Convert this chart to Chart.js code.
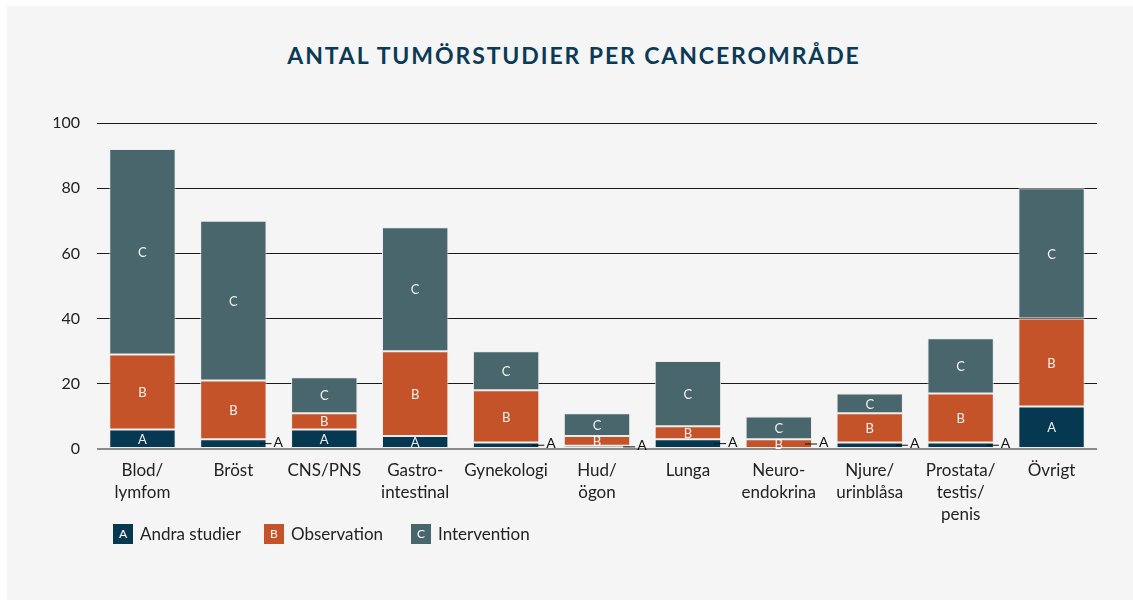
<!DOCTYPE html>
<html>
<head>
<meta charset="utf-8">
<script src="https://cdn.jsdelivr.net/npm/chart.js@4"></script>
<style>
  html, body { margin: 0; padding: 0; background: #ffffff; }
  #panel {
    position: absolute; left: 7px; top: 6px; width: 1126px; height: 594px;
    background: #f5f5f5;
  }
  #wrap { position: absolute; left: 0; top: 0; width: 1133px; height: 604px; }
  #title {
    position: absolute; left: 0; top: 40px; width: 1148px; text-align: center;
    font-family: Lato, "Open Sans", sans-serif; font-weight: bold; font-size: 23px;
    letter-spacing: 1.9px; color: #0b3a55; line-height: 30px;
  }
  #legend {
    position: absolute; top: 524px; left: 113px;
    font-family: Lato, "Open Sans", sans-serif; font-size: 17px; color: #222;
  }
  .item { position: absolute; top: 0; white-space: nowrap; height: 20px; line-height: 20px; }
  .box {
    position: absolute; top: 0; left: 0; width: 20px; height: 20px;
    color: #fff; font-size: 12px; text-align: center; line-height: 20px;
  }
  .label { position: absolute; left: 27px; top: 0; }
</style>
</head>
<body>
<div id="panel"></div>
<div id="title">ANTAL TUMÖRSTUDIER PER CANCEROMRÅDE</div>
<div id="wrap"><canvas id="chart" width="1133" height="604"></canvas></div>
<div id="legend"></div>
<script>
// Data
const categories = [
  ['Blod/', 'lymfom'], 'Bröst', 'CNS/PNS', ['Gastro-', 'intestinal'], 'Gynekologi',
  ['Hud/', 'ögon'], 'Lunga', ['Neuro-', 'endokrina'], ['Njure/', 'urinblåsa'],
  ['Prostata/', 'testis/', 'penis'], 'Övrigt'
];
const andraStudier = [6, 3, 6, 4, 2, 1, 3, 0, 2, 2, 13];
const observation = [23, 18, 5, 26, 16, 3, 4, 3, 9, 15, 27];
const intervention = [63, 49, 11, 38, 12, 7, 20, 7, 6, 17, 40];
const yTicks = [0, 20, 40, 60, 80, 100];

const seriesNames = ['Andra studier', 'Observation', 'Intervention'];
const seriesLetters = ['A', 'B', 'C'];
const seriesColors = ['#063852', '#c4532a', '#48666b'];

const FONT = 'Lato, "Open Sans", sans-serif';

// Segment letters: inside the bar, or beside it with a short leader line when too thin
const segmentLabels = {
  id: 'segmentLabels',
  afterDatasetsDraw(chart) {
    const ctx = chart.ctx;
    ctx.save();
    chart.data.datasets.forEach((ds, di) => {
      const meta = chart.getDatasetMeta(di);
      meta.data.forEach((bar, i) => {
        const v = ds.data[i];
        const letter = seriesLetters[di];
        const top = Math.min(bar.y, bar.base);
        const bottom = Math.max(bar.y, bar.base);
        if (di === 0 && v < 4) {
          const right = bar.x + bar.width / 2;
          const y = v > 0 ? (top + bottom) / 2 : bottom - 5;
          ctx.strokeStyle = '#111';
          ctx.lineWidth = 1;
          ctx.beginPath();
          ctx.moveTo(right - 7, y);
          ctx.lineTo(right + 5, y);
          ctx.stroke();
          ctx.fillStyle = '#111';
          ctx.font = '14px ' + FONT;
          ctx.textAlign = 'left';
          ctx.textBaseline = 'alphabetic';
          ctx.fillText(letter, right + 7, y + 3);
        } else if (v > 0) {
          ctx.fillStyle = 'rgba(255,255,255,0.92)';
          ctx.font = '13px ' + FONT;
          ctx.textAlign = 'center';
          ctx.textBaseline = 'middle';
          ctx.fillText(letter, bar.x, (top + bottom) / 2 + 1);
        }
      });
    });
    ctx.restore();
  }
};

new Chart(document.getElementById('chart'), {
  type: 'bar',
  data: {
    labels: categories,
    datasets: [andraStudier, observation, intervention].map((d, k) => ({
      label: seriesNames[k],
      data: d,
      backgroundColor: seriesColors[k],
      borderColor: 'rgba(235,235,235,0.9)',
      borderWidth: 1,
      borderSkipped: false,
      categoryPercentage: 1,
      barPercentage: 0.73
    }))
  },
  options: {
    responsive: false,
    animation: false,
    layout: { padding: { left: 0, right: 36, top: 123, bottom: 0 } },
    plugins: {
      legend: { display: false },
      tooltip: { enabled: false },
      title: { display: false }
    },
    scales: {
      x: {
        stacked: true,
        grid: { display: false, drawTicks: false },
        border: { display: false },
        ticks: {
          color: '#222',
          font: { family: FONT, size: 17, lineHeight: 1.3 },
          padding: 10,
          maxRotation: 0,
          autoSkip: false
        },
        afterFit(scale) { scale.height = 155; }
      },
      y: {
        stacked: true,
        min: 0,
        max: 100,
        afterBuildTicks(scale) { scale.ticks = yTicks.map(v => ({ value: v })); },
        grid: {
          drawTicks: false,
          color: c => (c.tick && c.tick.value === 0 ? '#8a8a8a' : '#1a1a1a'),
          lineWidth: c => (c.tick && c.tick.value === 0 ? 2 : 1)
        },
        border: { display: false },
        ticks: {
          color: '#222',
          font: { family: FONT, size: 16 },
          padding: 17
        },
        afterFit(scale) { scale.width = 97; }
      }
    }
  },
  plugins: [segmentLabels]
});

// Legend with letter boxes
const legendEl = document.getElementById('legend');
const legendX = [0, 151, 298];
seriesNames.forEach((name, k) => {
  const item = document.createElement('div');
  item.className = 'item';
  item.style.left = legendX[k] + 'px';
  item.innerHTML = '<div class="box" style="background:' + seriesColors[k] + '">' +
    seriesLetters[k] + '</div><span class="label">' + name + '</span>';
  legendEl.appendChild(item);
});
</script>
</body>
</html>
